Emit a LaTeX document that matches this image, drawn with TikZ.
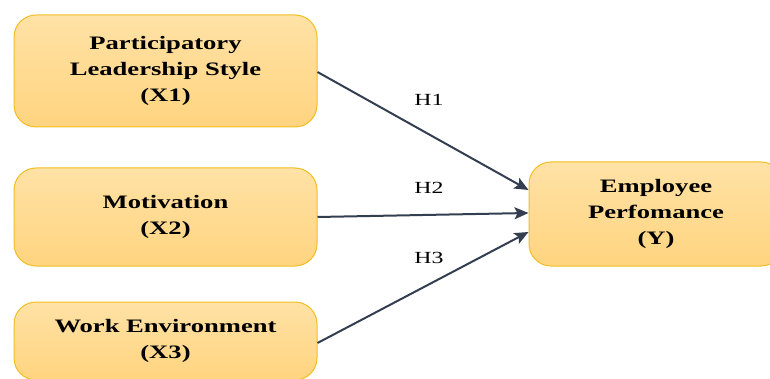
\documentclass[tikz,border=0pt]{standalone}
\usepackage{fontspec}
\setmainfont{Liberation Serif}[FakeStretch=1.4]
\usetikzlibrary{arrows.meta}
\definecolor{boxtop}{HTML}{FFE2A6}
\definecolor{boxbot}{HTML}{FFD47F}
\definecolor{boxline}{HTML}{F2BE22}
\definecolor{arrowc}{HTML}{333F50}

\begin{document}
\begin{tikzpicture}[x=1pt,y=-1pt,
  box/.style={draw=boxline,line width=1pt,rounded corners=22pt,top color=boxtop,bottom color=boxbot,
    minimum width=303pt,align=center,font=\fontsize{19}{26}\selectfont\bfseries},
  link/.style={draw=arrowc,line width=2pt,-{Stealth[length=14pt,width=12pt,inset=3pt]}},
  hyp/.style={font=\fontsize{17}{20}\selectfont}]
\useasboundingbox (0,0) rectangle (770,379);
\node[box,minimum height=112pt] (x1) at (165.5,71) {Participatory\\Leadership Style\\(X1)};
\node[box,minimum height=98pt] (x2) at (165.5,217) {Motivation\\(X2)};
\node[box,minimum height=78pt] (x3) at (165.5,341) {Work Environment\\(X3)};
\node[box,minimum width=254pt,minimum height=104pt] (y) at (656,214) {Employee\\Perfomance\\(Y)};
\draw[link] ([yshift=-1pt]x1.east) -- ([yshift=24pt]y.west);
\draw[link] (x2.east) -- ([yshift=1pt]y.west);
\draw[link] ([yshift=-2pt]x3.east) -- ([yshift=-18pt]y.west);
\node[hyp] (h1) at (429,100) {H1};
\node[hyp] (h2) at (429,188) {H2};
\node[hyp] (h3) at (429,258) {H3};
\end{tikzpicture}
\end{document}
